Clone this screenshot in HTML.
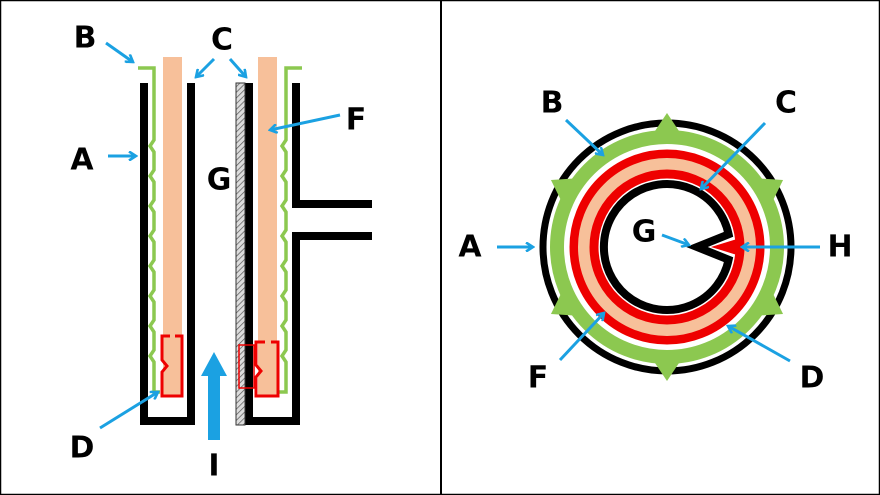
<!DOCTYPE html>
<html><head><style>
html,body{margin:0;padding:0;background:#fff}
svg{display:block}
text{font-family:"DejaVu Sans","Liberation Sans",sans-serif;font-weight:bold;font-size:30px;fill:#000;text-anchor:middle;dominant-baseline:central}
</style></head><body>
<svg width="880" height="495" viewBox="0 0 880 495" xmlns="http://www.w3.org/2000/svg">
<defs>
<marker id="ah" markerWidth="10" markerHeight="10" refX="8" refY="5" orient="auto" markerUnits="userSpaceOnUse" viewBox="0 0 10 10">
<polyline points="1,0.5 8,5 1,9.5" fill="none" stroke="#1ba1e2" stroke-width="2.6"/>
</marker>
<pattern id="hatch" width="4" height="4" patternUnits="userSpaceOnUse" patternTransform="rotate(45)">
<rect width="4" height="4" fill="#ddd"/><line x1="0" y1="0" x2="0" y2="4" stroke="#555" stroke-width="1.4"/>
</pattern>
</defs>
<rect x="0.5" y="0.5" width="879" height="494" fill="#fff" stroke="#000" stroke-width="1.5"/>
<line x1="441" y1="0" x2="441" y2="495" stroke="#000" stroke-width="2"/>

<rect x="163" y="57" width="19" height="338" fill="#f7c09a"/>
<rect x="258" y="57" width="19" height="338" fill="#f7c09a"/>
<path d="M144 83 V421 H191 V83" fill="none" stroke="#000" stroke-width="8"/>
<path d="M249 83 V421 H296 V236 H372 M296 83 V204 H372" fill="none" stroke="#000" stroke-width="8"/>
<rect x="236" y="83" width="9" height="342" fill="url(#hatch)" stroke="#333" stroke-width="1"/>
<path d="M138 68 H154 V140 l-4 6 4 6 V170 l-4 6 4 6 V200 l-4 6 4 6 V230 l-4 6 4 6 V260 l-4 6 4 6 V290 l-4 6 4 6 V320 l-4 6 4 6 V350 l-4 6 4 6 V392 H160" fill="none" stroke="#8cc850" stroke-width="3.5"/>
<path d="M302 68 H286 V140 l-4 6 4 6 V170 l-4 6 4 6 V200 l-4 6 4 6 V230 l-4 6 4 6 V260 l-4 6 4 6 V290 l-4 6 4 6 V320 l-4 6 4 6 V350 l-4 6 4 6 V392 H278" fill="none" stroke="#8cc850" stroke-width="3.5"/>
<path d="M170 336 H162 V360 l5 6 -5 6 V396 H182 V336 H175" fill="none" stroke="#e00" stroke-width="3"/>
<path d="M265 342 H256 V365 l5 6 -5 6 V396 H278 V342 H271" fill="none" stroke="#e00" stroke-width="3"/>
<rect x="239" y="345" width="15" height="43" fill="none" stroke="#e00" stroke-width="1.5"/>
<rect x="208" y="374" width="12" height="66" fill="#1ba1e2"/>
<polygon points="214,352 201,376 227,376" fill="#1ba1e2"/>
<g stroke="#1ba1e2" stroke-width="3" fill="none" marker-end="url(#ah)">
<line x1="106" y1="43" x2="133" y2="62"/>
<line x1="214" y1="59" x2="196" y2="77"/>
<line x1="230" y1="59" x2="246" y2="77"/>
<line x1="108" y1="156" x2="136" y2="156"/>
<line x1="340" y1="115" x2="270" y2="130"/>
<line x1="100" y1="428" x2="158" y2="392"/>
</g>
<text x="85" y="38">B</text>
<text x="222" y="40">C</text>
<text x="82" y="160">A</text>
<text x="219" y="180">G</text>
<text x="356" y="120">F</text>
<text x="82" y="448">D</text>
<text x="214" y="466">I</text>

<g transform="translate(667,247)">
<circle r="124" fill="none" stroke="#000" stroke-width="7"/>
<circle r="110" fill="none" stroke="#8cc850" stroke-width="14"/>
<g fill="#8cc850">
<polygon points="0,-134 -20,-104 20,-104" transform="rotate(0)"/>
<polygon points="0,-134 -20,-104 20,-104" transform="rotate(60)"/>
<polygon points="0,-134 -20,-104 20,-104" transform="rotate(120)"/>
<polygon points="0,-134 -20,-104 20,-104" transform="rotate(180)"/>
<polygon points="0,-134 -20,-104 20,-104" transform="rotate(240)"/>
<polygon points="0,-134 -20,-104 20,-104" transform="rotate(300)"/>
</g>
<circle r="93" fill="none" stroke="#e00" stroke-width="9"/>
<circle r="83" fill="none" stroke="#f7c09a" stroke-width="12"/>
<circle r="73" fill="none" stroke="#e00" stroke-width="9"/>
<path d="M61.6 -12.7 A63 63 0 1 0 61.6 12.7 L30 0 Z" fill="none" stroke="#000" stroke-width="8" stroke-linejoin="miter"/>
<polygon points="44,0 70,-8 70,8" fill="#e00"/>
</g>
<g stroke="#1ba1e2" stroke-width="3" fill="none" marker-end="url(#ah)">
<line x1="566" y1="120" x2="603" y2="155"/>
<line x1="765" y1="123" x2="701" y2="189"/>
<line x1="497" y1="247" x2="533" y2="247"/>
<line x1="662" y1="235" x2="689" y2="245"/>
<line x1="820" y1="247" x2="742" y2="247"/>
<line x1="560" y1="360" x2="604" y2="313"/>
<line x1="790" y1="361" x2="728" y2="326"/>
</g>
<text x="552" y="103">B</text>
<text x="786" y="103">C</text>
<text x="470" y="247">A</text>
<text x="644" y="232">G</text>
<text x="840" y="247">H</text>
<text x="538" y="378">F</text>
<text x="812" y="378">D</text>
</svg>
</body></html>
